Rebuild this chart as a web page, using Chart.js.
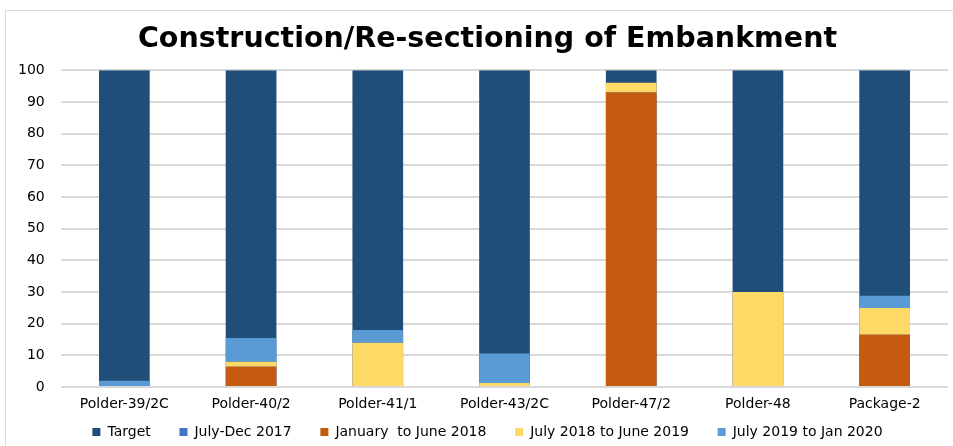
<!DOCTYPE html>
<html>
<head>
<meta charset="utf-8">
<script src="https://cdn.jsdelivr.net/npm/chart.js@4.4.1/dist/chart.umd.min.js"></script>
<style>
  html, body { margin: 0; padding: 0; background: #fff; }
  #frame { position: absolute; left: 5px; top: 10px; width: 960px; height: 450px; border: 1px solid #d9d9d9; }
  #wrap { position: absolute; left: 0; top: 0; width: 953px; height: 446px; }
</style>
</head>
<body>
<div id="frame"></div>
<div id="wrap"><canvas id="chart"></canvas></div>
<script>
// categories and series
const polders = ["Polder-39/2C", "Polder-40/2", "Polder-41/1", "Polder-43/2C", "Polder-47/2", "Polder-48", "Package-2"];
const target = [100, 100, 100, 100, 100, 100, 100];
const julDec2017 = [0, 0, 0, 0, 0, 0, 0];
const janJun2018 = [0, 6.4, 0, 0, 93, 0, 16.5];
const jul2018Jun2019 = [0, 1.6, 14, 1.3, 3, 30, 8.4];
const jul2019Jan2020 = [2, 7.5, 4, 9.3, 0, 0, 3.9];
const yTicks = [0, 10, 20, 30, 40, 50, 60, 70, 80, 90, 100];

const font = "'DejaVu Sans', Verdana, sans-serif";

// target sits behind the stacked progress bars
function bar(label, data, color, order, stack) {
    return {
        label: label,
        data: data,
        backgroundColor: color,
        borderWidth: 0,
        stack: stack,
        order: order,
        grouped: false,
        barPercentage: 0.8,
        categoryPercentage: 0.5
    };
}

new Chart(document.getElementById("chart"), {
    type: "bar",
    data: {
        labels: polders,
        datasets: [
            bar("Target", target, "#1F4E79", 10, "target"),
            bar("July-Dec 2017", julDec2017, "#4472C4", 0, "done"),
            bar("January  to June 2018", janJun2018, "#C55A11", 0, "done"),
            bar("July 2018 to June 2019", jul2018Jun2019, "#FFD966", 0, "done"),
            bar("July 2019 to Jan 2020", jul2019Jan2020, "#5B9BD5", 0, "done")
        ]
    },
    options: {
        responsive: true,
        maintainAspectRatio: false,
        animation: false,
        layout: { padding: { left: 27, right: 5, top: 18, bottom: 0 } },
        plugins: {
            title: {
                display: true,
                text: "Construction/Re-sectioning of Embankment",
                color: "#000",
                font: { family: font, size: 28.5, weight: "bold" },
                padding: { top: 4, bottom: 14 }
            },
            legend: {
                position: "bottom",
                maxHeight: 49.75,
                labels: {
                    boxWidth: 8,
                    boxHeight: 8,
                    color: "#000",
                    font: { family: font, size: 14 },
                    padding: 28.75,
                    sort: (a, b) => a.datasetIndex - b.datasetIndex
                }
            },
            tooltip: { enabled: false }
        },
        scales: {
            x: {
                stacked: true,
                grid: { display: false },
                border: { display: false },
                // mirrored with negative padding so the labels hang below the axis without clipping
                ticks: { color: "#000", font: { family: font, size: 14 }, maxRotation: 0, mirror: true, padding: -25.5 },
                afterFit: s => { s.height = 9.25; }
            },
            y: {
                stacked: true,
                min: 0,
                max: 100,
                afterBuildTicks: axis => { axis.ticks = yTicks.map(v => ({ value: v })); },
                grid: { color: "#d9d9d9", lineWidth: 2, drawTicks: false },
                border: { display: false },
                ticks: { color: "#000", font: { family: font, size: 14 }, mirror: true, crossAlign: "far", padding: -43 },
                afterFit: s => { s.width = 34; }
            }
        }
    }
});
</script>
</body>
</html>
